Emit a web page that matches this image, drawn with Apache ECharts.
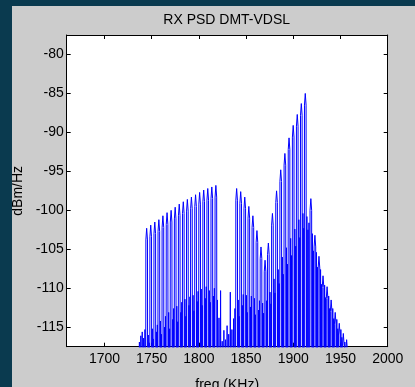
<!DOCTYPE html>
<html>
<head>
<meta charset="utf-8">
<title>RX PSD DMT-VDSL</title>
<script src="https://cdn.jsdelivr.net/npm/echarts@6/dist/echarts.min.js"></script>
<style>
  html, body { margin: 0; padding: 0; width: 415px; height: 387px; overflow: hidden; background: #0a3a4f; }
  #fig { position: absolute; left: 12px; top: 6px; width: 403px; height: 381px; }
</style>
</head>
<body>
<div id="fig"></div>
<script>
// Deep nulls between carrier lobes fall far below the visible range.
const D = -140;

// Axis tick positions
const xTicks = [1700, 1750, 1800, 1850, 1900, 1950, 2000];
const yTicks = [-115, -110, -105, -100, -95, -90, -85, -80];

// PSD trace, [freq KHz, dBm/Hz]: each carrier lobe (shoulder, peak, shoulder)
// is followed by its nulls and the sidelobes in between.
const leadIn = [
  [1736.2,D],[1737.0,-116.9],[1737.7,D],[1738.5,-116.1],[1739.2,D],[1740.0,-115.6],
  [1740.7,D],[1741.5,-116.4],[1742.2,D],[1742.9,-115.3],[1743.55,D]
];

const band1 = [
  [1743.85,-103.8],[1744.7,-102.3],[1745.55,-103.8],[1745.85,D],[1746.4,-116.0],[1746.9,D],[1747.4,-117.0],[1747.85,D],
  [1748.15,-103.4],[1749.0,-101.9],[1749.85,-103.4],[1750.15,D],[1750.7,-115.2],[1751.2,D],[1751.7,-116.5],[1752.15,D],
  [1752.45,-103.0],[1753.3,-101.5],[1754.15,-103.0],[1754.45,D],[1755.0,-115.6],[1755.5,D],[1756.0,-114.7],[1756.45,D],
  [1756.75,-102.7],[1757.6,-101.2],[1758.45,-102.7],[1758.75,D],[1759.3,-114.2],[1759.8,D],[1760.3,-115.9],[1760.75,D],
  [1761.05,-102.2],[1761.9,-100.7],[1762.75,-102.2],[1763.05,D],[1763.6,-115.0],[1764.1,D],[1764.6,-113.6],[1765.15,D],
  [1765.45,-101.8],[1766.3,-100.3],[1767.15,-101.8],[1767.45,D],[1768.0,-113.1],[1768.5,D],[1769.0,-115.2],[1769.45,D],
  [1769.75,-101.5],[1770.6,-100.0],[1771.45,-101.5],[1771.75,D],[1772.3,-114.0],[1772.8,D],[1773.3,-112.6],[1773.75,D],
  [1774.05,-101.1],[1774.9,-99.6],[1775.75,-101.1],[1776.05,D],[1776.6,-112.3],[1777.1,D],[1777.6,-114.3],[1778.05,D],
  [1778.35,-100.7],[1779.2,-99.2],[1780.05,-100.7],[1780.35,D],[1780.9,-113.1],[1781.4,D],[1781.9,-111.8],[1782.35,D],
  [1782.65,-100.4],[1783.5,-98.9],[1784.35,-100.4],[1784.65,D],[1785.2,-111.4],[1785.7,D],[1786.2,-113.6],[1786.65,D],
  [1786.95,-100.1],[1787.8,-98.6],[1788.65,-100.1],[1788.95,D],[1789.5,-112.2],[1790.0,D],[1790.5,-111.1],[1790.95,D],
  [1791.25,-99.8],[1792.1,-98.3],[1792.95,-99.8],[1793.25,D],[1793.8,-110.9],[1794.3,D],[1794.8,-112.9],[1795.35,D],
  [1795.65,-99.5],[1796.5,-98.0],[1797.35,-99.5],[1797.65,D],[1798.2,-111.7],[1798.7,D],[1799.2,-110.4],[1799.65,D],
  [1799.95,-99.2],[1800.8,-97.7],[1801.65,-99.2],[1801.95,D],[1802.5,-110.1],[1803.0,D],[1803.5,-112.2],[1803.95,D],
  [1804.25,-98.9],[1805.1,-97.4],[1805.95,-98.9],[1806.25,D],[1806.8,-111.3],[1807.3,D],[1807.8,-109.8],[1808.25,D],
  [1808.55,-98.7],[1809.4,-97.2],[1810.25,-98.7],[1810.55,D],[1811.1,-110.3],[1811.6,D],[1812.1,-111.8],[1812.55,D],
  [1812.85,-98.5],[1813.7,-97.0],[1814.55,-98.5],[1814.85,D],[1815.4,-111.0],[1815.9,D],[1816.4,-110.0],[1816.85,D],
  [1817.15,-98.3],[1818.0,-96.8],[1818.85,-98.3]
];

const midGap = [
  [1819.15,D],[1819.7,-111.5],[1820.4,D],[1821.3,-113.8],[1822.1,D],[1823.0,-110.3],
  [1823.8,D],[1824.7,-116.8],[1825.5,D],[1826.5,-115.4],[1827.3,D],[1828.2,-116.6],
  [1829.0,D],[1829.9,-114.8],[1830.7,D],[1831.6,-115.9],[1832.4,D],[1833.3,-110.5],
  [1834.1,D],[1835.0,-115.3],[1835.8,D],[1836.7,-113.9],[1837.5,D],[1838.2,-112.6],
  [1838.85,D]
];

const band2 = [
  [1839.15,-98.7],[1840.0,-97.2],[1840.85,-98.7],[1841.15,D],[1841.7,-111.5],[1842.2,D],[1842.7,-113.6],[1843.15,D],
  [1843.45,-99.1],[1844.3,-97.6],[1845.15,-99.1],[1845.45,D],[1846.0,-112.2],[1846.5,D],[1847.0,-110.8],[1847.45,D],
  [1847.75,-99.8],[1848.6,-98.3],[1849.45,-99.8],[1849.75,D],[1850.3,-110.9],[1850.8,D],[1851.3,-113.1],[1851.75,D],
  [1852.05,-101.0],[1852.9,-99.5],[1853.75,-101.0],[1854.05,D],[1854.6,-112.4],[1855.1,D],[1855.6,-111.0],[1856.05,D],
  [1856.35,-102.2],[1857.2,-100.7],[1858.05,-102.2],[1858.35,D],[1858.9,-111.3],[1859.4,D],[1859.9,-113.4],[1860.35,D],
  [1860.65,-104.1],[1861.5,-102.6],[1862.35,-104.1],[1862.65,D],[1863.2,-112.8],[1863.7,D],[1864.2,-111.6],[1864.65,D],
  [1864.95,-106.2],[1865.8,-104.7],[1866.65,-106.2],[1866.95,D],[1867.5,-111.9],[1868.0,D],[1868.5,-113.2],[1868.95,D],
  [1869.25,-107.9],[1870.1,-106.4],[1870.95,-107.9],[1871.25,D],[1871.8,-111.6],[1872.45,D]
];

const band3 = [
  [1872.75,-105.7],[1873.6,-104.2],[1874.45,-105.7],[1874.75,D],[1875.3,-110.5],[1875.8,D],[1876.3,-112.0],[1876.75,D],
  [1877.05,-101.9],[1877.9,-100.4],[1878.75,-101.9],[1879.05,D],[1879.6,-108.8],[1880.1,D],[1880.6,-110.6],[1881.15,D],
  [1881.45,-99.0],[1882.3,-97.5],[1883.15,-99.0],[1883.45,D],[1884.0,-107.6],[1884.5,D],[1885.0,-109.4],[1885.55,D],
  [1885.85,-96.3],[1886.7,-94.8],[1887.55,-96.3],[1887.85,D],[1888.4,-106.0],[1888.9,D],[1889.4,-108.2],[1889.95,D],
  [1890.25,-94.2],[1891.1,-92.7],[1891.95,-94.2],[1892.25,D],[1892.8,-104.8],[1893.3,D],[1893.8,-106.9],[1894.35,D],
  [1894.65,-92.2],[1895.5,-90.7],[1896.35,-92.2],[1896.65,D],[1897.2,-103.6],[1897.7,D],[1898.2,-105.8],[1898.75,D],
  [1899.05,-90.6],[1899.9,-89.1],[1900.75,-90.6],[1901.05,D],[1901.6,-102.4],[1902.1,D],[1902.6,-104.6],[1903.05,D],
  [1903.35,-89.2],[1904.2,-87.7],[1905.05,-89.2],[1905.35,D],[1905.9,-101.2],[1906.4,D],[1906.9,-103.5],[1907.35,D],
  [1907.65,-87.8],[1908.5,-86.3],[1909.35,-87.8],[1909.65,D],[1910.2,-100.4],[1910.7,D],[1911.1,-102.3],[1911.55,D],
  [1911.85,-86.5],[1912.7,-85.0],[1913.55,-86.5],[1913.85,D],[1914.4,-100.8],[1914.9,D],[1915.5,-102.5],[1916.0,D],[1916.6,-101.6],[1917.45,D],
  [1917.75,-100.0],[1918.6,-98.5],[1919.45,-100.0],[1919.75,D],[1920.3,-103.0],[1920.8,D],[1921.3,-105.2],[1921.75,D],
  [1922.05,-104.7],[1922.9,-103.2],[1923.75,-104.7],[1924.05,D],[1924.6,-105.4],[1925.1,D],[1925.6,-107.3],[1926.05,D],
  [1926.35,-107.4],[1927.2,-105.9],[1928.05,-107.4],[1928.35,D],[1928.9,-107.6],[1929.4,D],[1929.9,-109.5],[1930.35,D],
  [1930.65,-109.9],[1931.5,-108.4],[1932.35,-109.9],[1932.65,D],[1933.2,-109.6],[1933.7,D],[1934.2,-111.2],[1934.65,D],
  [1934.95,-111.3],[1935.8,-109.8],[1936.65,-111.3],[1936.95,D],[1937.5,-111.0],[1938.0,D],[1938.5,-112.6],[1938.95,D],
  [1939.25,-113.0],[1940.1,-111.5],[1940.95,-113.0],[1941.25,D],[1941.8,-112.6],[1942.3,D],[1942.8,-113.9],[1943.25,D],
  [1943.55,-114.6],[1944.4,-113.1],[1945.25,-114.6],[1945.55,D],[1946.1,-114.0],[1946.6,D],[1947.1,-115.2],[1947.55,D],
  [1947.85,-116.0],[1948.7,-114.5],[1949.55,-116.0],[1949.85,D],[1950.4,-115.3],[1950.9,D],[1951.4,-116.3],[1951.85,D],
  [1952.15,-117.3],[1953.0,-115.8],[1953.85,-117.3],[1954.15,D],[1954.6,-116.9],[1955.35,D],
  [1955.65,-118.1],[1956.5,-116.6],[1957.35,-118.1],[1957.65,D]
];

const trace = [].concat(leadIn, band1, midGap, band2, band3);

const FONT = '"Liberation Sans", Arial, Helvetica, sans-serif';
const txt = { fontFamily: FONT, fontSize: 14, color: '#000' };
const black = { color: '#000', width: 1 };

const chart = echarts.init(document.getElementById('fig'), null, { renderer: 'canvas' });

const boxX = (pos, main) => ({
  type: 'value', min: 1660, max: 2000, position: pos,
  axisLine: { show: true, onZero: false, lineStyle: black },
  axisTick: { show: true, inside: true, length: 4, customValues: xTicks, lineStyle: black },
  axisLabel: main
    ? Object.assign({ show: true, margin: 5, customValues: xTicks, formatter: v => String(v) }, txt)
    : { show: false },
  splitLine: { show: false },
  name: main ? 'freq (KHz)' : '',
  nameLocation: 'middle', nameGap: 31, nameTextStyle: txt
});

const boxY = (pos, main) => ({
  type: 'value', min: -117.5, max: -77.5, position: pos,
  axisLine: { show: true, onZero: false, lineStyle: black },
  axisTick: { show: true, inside: true, length: 4, customValues: yTicks, lineStyle: black },
  axisLabel: main
    ? Object.assign({ show: true, margin: 3, customValues: yTicks, formatter: v => String(v) }, txt)
    : { show: false },
  splitLine: { show: false },
  name: main ? 'dBm/Hz' : '',
  nameLocation: 'middle', nameGap: 27, nameRotate: 90, nameTextStyle: txt
});

chart.setOption({
  backgroundColor: '#cccccc',
  animation: false,
  title: {
    text: 'RX PSD DMT-VDSL',
    left: 214.7, top: 7, textAlign: 'center', padding: 0,
    textStyle: { fontFamily: FONT, fontSize: 14, fontWeight: 'normal', color: '#000' }
  },
  grid: {
    left: 54.7, right: 27.3, top: 29, bottom: 40.3,
    outerBoundsMode: 'none', containLabel: false,
    show: true, backgroundColor: '#ffffff', borderWidth: 0
  },
  xAxis: [boxX('bottom', true), boxX('top', false)],
  yAxis: [boxY('left', true), boxY('right', false)],
  series: [{
    type: 'line',
    data: trace,
    xAxisIndex: 0, yAxisIndex: 0,
    showSymbol: false,
    clip: true,
    sampling: null,
    lineStyle: { color: '#0000ff', width: 1 }
  }]
});
</script>
</body>
</html>
